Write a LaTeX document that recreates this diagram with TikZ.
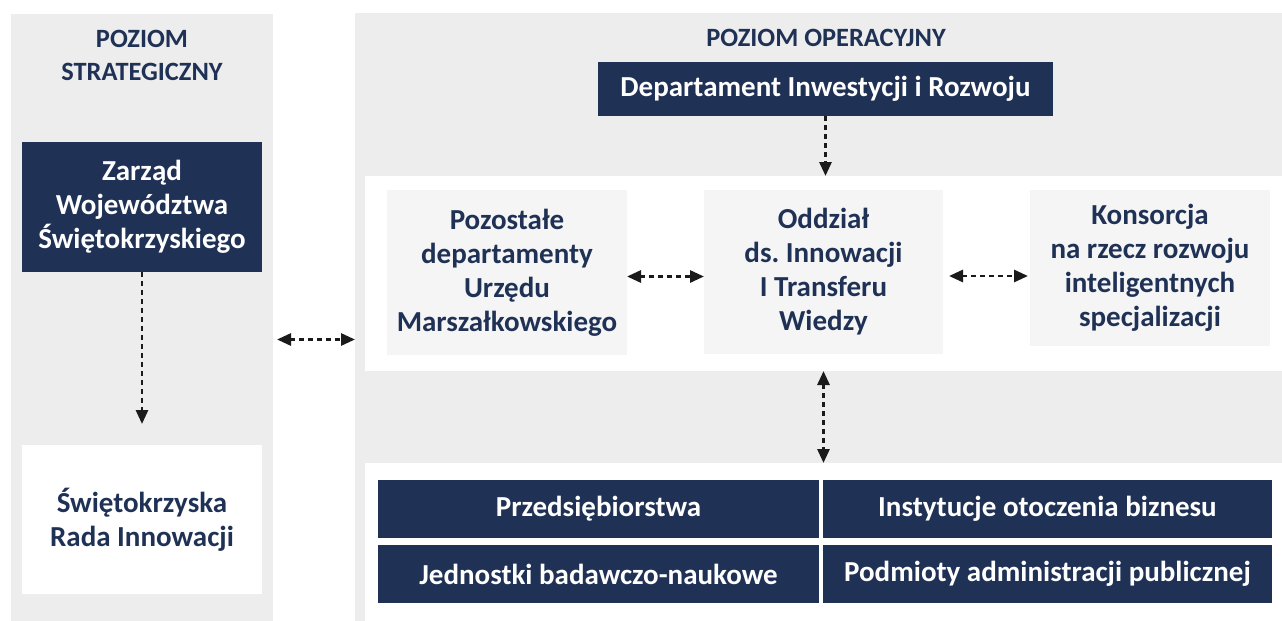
\documentclass[tikz,border=0pt]{standalone}
\usepackage{fontspec}
\setmainfont{Carlito}
\usetikzlibrary{arrows.meta}

\definecolor{navy}{RGB}{31,49,85}
\definecolor{panelgray}{RGB}{237,237,237}
\definecolor{boxgray}{RGB}{245,245,245}
\definecolor{tipblack}{RGB}{26,26,26}

\begin{document}
\frenchspacing
\begin{tikzpicture}[x=0.5pt,y=-0.5pt,
    every node/.style={inner sep=0pt,outer sep=0pt,align=center,
                       font=\bfseries\fontsize{14.5}{17}\selectfont},
    panel/.style={fill=panelgray,anchor=north west},
    band/.style={fill=white,anchor=north west},
    darkbox/.style={fill=navy,text=white,anchor=north west},
    lightbox/.style={fill=boxgray,text=navy,anchor=north west},
    whitebox/.style={fill=white,text=navy,anchor=north west},
    heading/.style={text=navy,font=\bfseries\fontsize{13.2}{16.5}\selectfont},
    link/.style={draw=tipblack,line width=1.4pt,dash pattern=on 2.5pt off 2pt,
                 {Triangle[length=7pt,width=6pt]}-{Triangle[length=7pt,width=6pt]}},
    flow/.style={draw=tipblack,line width=1.4pt,dash pattern=on 2.5pt off 2pt,
                 -{Triangle[length=7pt,width=6pt]}}]
    \useasboundingbox (0,0) rectangle (1282,621);

    % tla poziomow
    \node[panel,minimum width=131pt,minimum height=303.5pt] (strat) at (11,14) {};
    \node[panel,minimum width=463.5pt,minimum height=304pt] (oper) at (355,13) {};
    \node[band,minimum width=458.5pt,minimum height=97.5pt] (upper) at (365,176) {};
    \node[band,minimum width=458.5pt,minimum height=79pt] (lower) at (365,463) {};

    % naglowki
    \node[heading] (h-strat) at (142,55) {POZIOM\\STRATEGICZNY};
    \node[heading] (h-oper) at (826,38) {POZIOM OPERACYJNY};

    % poziom strategiczny
    \node[darkbox,minimum width=120pt,minimum height=65pt] (zarzad) at (22,142)
        {Zarząd\\Województwa\\Świętokrzyskiego};
    \node[whitebox,minimum width=120pt,minimum height=74.5pt] (rada) at (22,445)
        {Świętokrzyska\\Rada Innowacji};

    % poziom operacyjny
    \node[darkbox,minimum width=227.5pt,minimum height=27pt] (dep) at (598,62)
        {Departament Inwestycji i Rozwoju};
    \node[lightbox,minimum width=120pt,minimum height=82.5pt] (pozost) at (387,190)
        {Pozostałe\\departamenty\\Urzędu\\Marszałkowskiego};
    \node[lightbox,minimum width=119.5pt,minimum height=82pt] (oddzial) at (704,190)
        {Oddział\\ds. Innowacji\\I Transferu\\Wiedzy};
    \node[lightbox,minimum width=120pt,minimum height=78pt] (konsorcja) at (1030,190)
        {Konsorcja\\na rzecz rozwoju\\inteligentnych\\specjalizacji};

    % partnerzy
    \node[darkbox,minimum width=220.5pt,minimum height=29pt] (przeds) at (378,480)
        {Przedsiębiorstwa};
    \node[darkbox,minimum width=224.5pt,minimum height=29pt] (iob) at (823,480)
        {Instytucje otoczenia biznesu};
    \node[darkbox,minimum width=220.5pt,minimum height=29pt] (jbr) at (378,545)
        {Jednostki badawczo-naukowe};
    \node[darkbox,minimum width=224.5pt,minimum height=29pt] (admin) at (823,545)
        {Podmioty administracji publicznej};

    % powiazania
    \draw[flow,shorten >=10.5pt] (zarzad) -- (rada);
    \draw[flow] (dep) -- (dep |- upper.north);
    \draw[link,shorten <=2pt] ([yshift=-11pt]strat.east) -- ([yshift=-11pt]strat.east -| oper.west);
    \draw[link] ([yshift=-2pt]pozost.east) -- ([yshift=-2pt]pozost.east -| oddzial.west);
    \draw[link,shorten <=3pt,shorten >=1pt] ([yshift=-2pt]oddzial.east) -- ([yshift=-2pt]oddzial.east -| konsorcja.west);
    \draw[link] (upper.south -| oddzial) -- (lower.north -| oddzial);
\end{tikzpicture}
\end{document}
